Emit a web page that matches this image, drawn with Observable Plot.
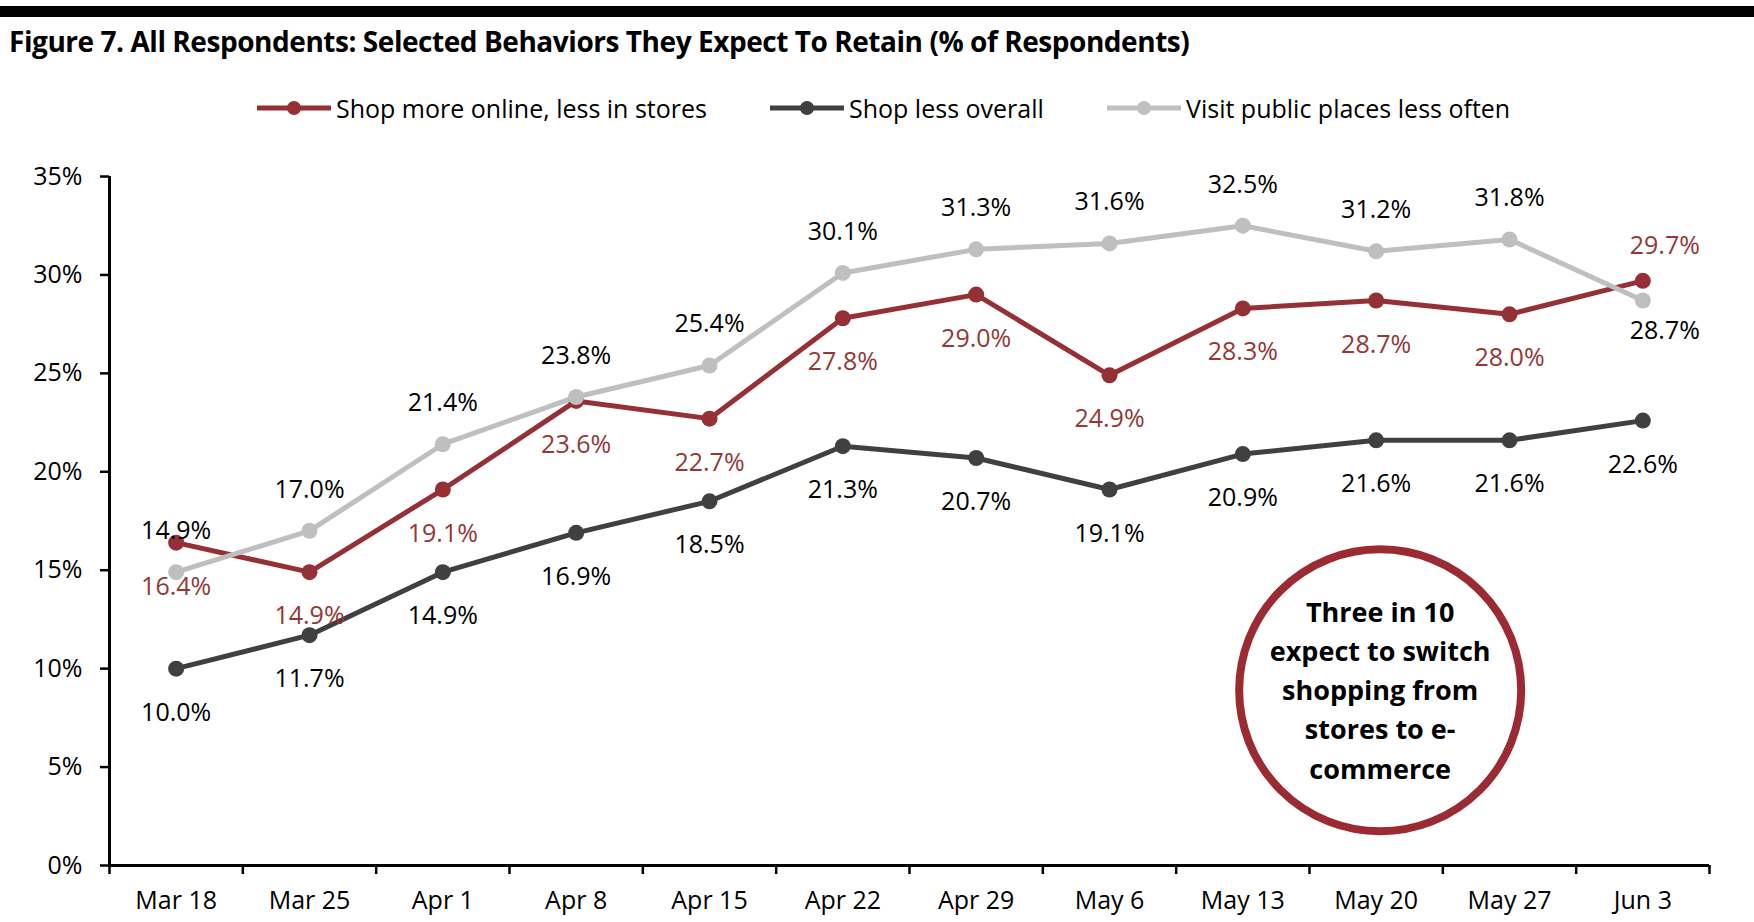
<!DOCTYPE html>
<html>
<head>
<meta charset="utf-8">
<script src="https://cdn.jsdelivr.net/npm/d3@7"></script>
<script src="https://cdn.jsdelivr.net/npm/@observablehq/plot@0.6"></script>
<style>
  html, body { margin: 0; padding: 0; background: #fff; }
  body { width: 1754px; height: 922px; position: relative; overflow: hidden;
         font-family: "Open Sans", Lato, sans-serif; color: #000; }
  #bar { position: absolute; left: 0; top: 6px; width: 1754px; height: 11px; background: #000; }
  #title { position: absolute; left: 9px; top: 24px; font-size: 28px; font-weight: bold; line-height: 34px; white-space: nowrap; letter-spacing: -0.45px; }
  .leg { position: absolute; top: 91px; height: 34px; display: flex; align-items: center; font-size: 25px; white-space: nowrap; }
  .leg svg { margin-right: 5px; }
  #chart { position: absolute; left: 0; top: 140px; }
</style>
</head>
<body>
<div id="bar"></div>
<div id="title">Figure 7. All Respondents: Selected Behaviors They Expect To Retain (% of Respondents)</div>
<div id="legend"></div>
<div id="chart"></div>
<script>
const dates = ["Mar 18","Mar 25","Apr 1","Apr 8","Apr 15","Apr 22","Apr 29","May 6","May 13","May 20","May 27","Jun 3"];
const shopOnline = [16.4, 14.9, 19.1, 23.6, 22.7, 27.8, 29.0, 24.9, 28.3, 28.7, 28.0, 29.7];
const shopLess   = [10.0, 11.7, 14.9, 16.9, 18.5, 21.3, 20.7, 19.1, 20.9, 21.6, 21.6, 22.6];
const visitLess  = [14.9, 17.0, 21.4, 23.8, 25.4, 30.1, 31.3, 31.6, 32.5, 31.2, 31.8, 28.7];
const seriesNames = ["Shop more online, less in stores", "Shop less overall", "Visit public places less often"];
const seriesColors = ["#953037", "#404040", "#BFBFBF"];
const labelColors = ["#953735", "#000000", "#000000"];
const yTicks = [0, 5, 10, 15, 20, 25, 30, 35];
const calloutLines = ["Three in 10", "expect to switch", "shopping from", "stores to e-", "commerce"];

const seriesValues = [shopOnline, shopLess, visitLess];
const last = dates.length - 1;
const rows = [];
seriesValues.forEach((vals, s) => vals.forEach((v, i) => rows.push({s, i, v})));

// label placement: grey above, red & dark below; at the last date red above, grey below
function labelDy(r) {
  if (r.i === last && r.s === 0) return -35;
  if (r.i === last && r.s === 2) return 30;
  return r.s === 2 ? -41 : 44;
}
function labelDx(r) {
  if (r.i === last && r.s !== 1) return 22;
  return 0;
}

// legend
const legendLeft = [257, 770, 1107];
const legend = document.getElementById("legend");
seriesNames.forEach((name, s) => {
  const d = document.createElement("div");
  d.className = "leg";
  d.style.left = legendLeft[s] + "px";
  d.innerHTML = `<svg width="74" height="16"><line x1="0" x2="74" y1="8" y2="8" stroke="${seriesColors[s]}" stroke-width="5"/><circle cx="37" cy="8" r="7" fill="${seriesColors[s]}"/></svg><span>${name}</span>`;
  legend.appendChild(d);
});

const font = "'Open Sans', Lato, sans-serif";
const callout = [{x: 9.03, y: 9.03, text: calloutLines.join("\n")}];
const calloutCircle = [{x: 9.03, y: 8.9}];

const marks = [
  Plot.ruleY([0], {stroke: "#000", strokeWidth: 3}),
  Plot.ruleX([-0.5], {stroke: "#000", strokeWidth: 3}),
  Plot.axisY({ticks: yTicks, tickFormat: d => d + "%", tickSize: 9, tickPadding: 18, fontSize: 25, strokeWidth: 2.5, stroke: "#000", fill: "#000"}),
  Plot.axisX({ticks: d3.range(-0.5, dates.length, 1), tickFormat: () => "", tickSize: 9, strokeWidth: 2.5, stroke: "#000"}),
  Plot.axisX({ticks: d3.range(dates.length), tickFormat: i => dates[i], tickSize: 0, tickPadding: 26, fontSize: 25, fill: "#000"})
];
[0, 1, 2].forEach(s => {
  const data = rows.filter(r => r.s === s);
  marks.push(Plot.line(data, {x: "i", y: "v", stroke: seriesColors[s], strokeWidth: 5}));
  marks.push(Plot.dot(data, {x: "i", y: "v", r: 8, fill: seriesColors[s]}));
});
// labels grouped by their offset (dx/dy are constants per mark)
d3.groups(rows, r => labelDy(r) + "|" + labelDx(r)).forEach(([key, g]) => {
  const [dy, dx] = key.split("|").map(Number);
  marks.push(Plot.text(g, {x: "i", y: "v", text: r => r.v.toFixed(1) + "%", dy, dx, fill: r => labelColors[r.s], fontSize: 25}));
});
marks.push(Plot.dot(calloutCircle, {x: "x", y: "y", r: 141, stroke: "#9B2A33", strokeWidth: 8, fill: "none"}));
marks.push(Plot.text(callout, {x: "x", y: "y", text: "text", fontSize: 27, fontWeight: "bold", lineHeight: 1.45, fill: "#000"}));

const chart = Plot.plot({
  width: 1754,
  height: 782,
  marginTop: 36,
  marginBottom: 57,
  marginLeft: 109,
  marginRight: 45,
  x: {type: "linear", domain: [-0.5, dates.length - 0.5], axis: null},
  y: {domain: [0, 35], axis: null},
  style: {fontFamily: font, fontSize: "25px", color: "#000", background: "#fff", overflow: "visible"},
  marks
});
document.getElementById("chart").appendChild(chart);
</script>
</body>
</html>
